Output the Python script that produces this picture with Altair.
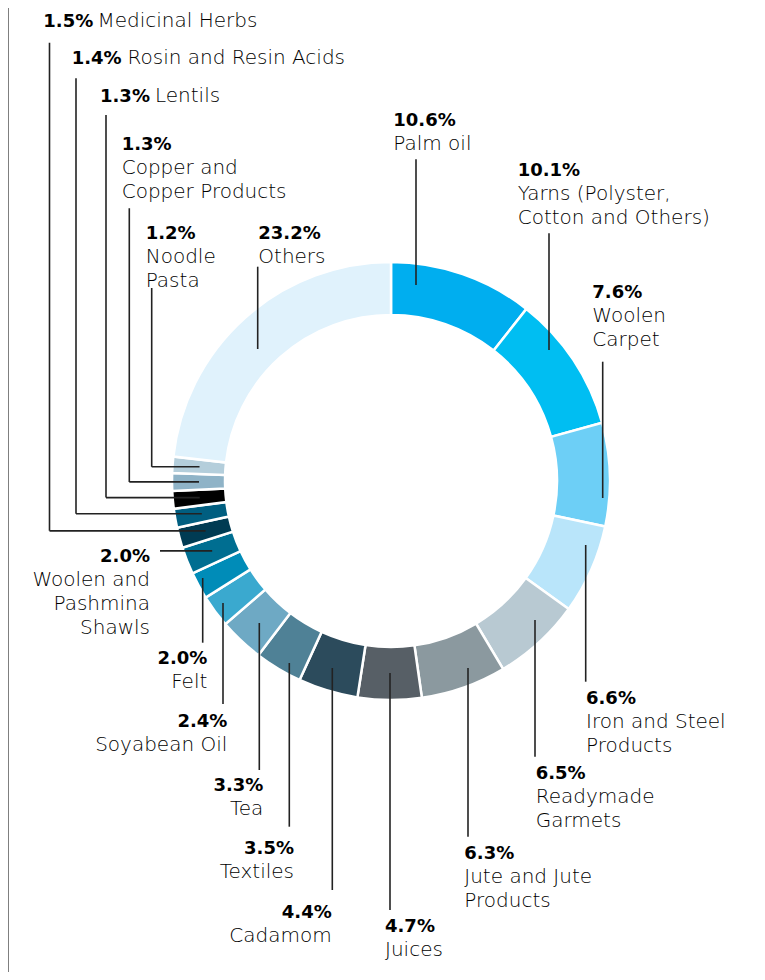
import math
import altair as alt
import pandas as pd

# ---------------- data ----------------
names = [
    "Palm oil", "Yarns (Polyster, Cotton and Others)", "Woolen Carpet",
    "Iron and Steel Products", "Readymade Garmets", "Jute and Jute Products",
    "Juices", "Cadamom", "Textiles", "Tea", "Soyabean Oil", "Felt",
    "Woolen and Pashmina Shawls", "Medicinal Herbs", "Rosin and Resin Acids",
    "Lentils", "Copper and Copper Products", "Noodle Pasta", "Others",
]
shares = [10.6, 10.1, 7.6, 6.6, 6.5, 6.3, 4.7, 4.4, 3.5, 3.3, 2.4, 2.0,
          2.0, 1.5, 1.4, 1.3, 1.3, 1.2, 23.2]
colors = [
    "#00AEEF", "#00BEF2", "#6DCFF6", "#B9E5FA", "#B8C9D2", "#8B999F",
    "#575F66", "#2C4B5C", "#4F8196", "#6EA9C4", "#3AA9CF", "#008CB8",
    "#006E91", "#003B53", "#005E80", "#000000", "#8FB3C7", "#B4CEDB",
    "#E0F2FC",
]
label_lines = [
    ["Palm oil"], ["Yarns (Polyster,", "Cotton and Others)"], ["Woolen", "Carpet"],
    ["Iron and Steel", "Products"], ["Readymade", "Garmets"], ["Jute and Jute", "Products"],
    ["Juices"], ["Cadamom"], ["Textiles"], ["Tea"], ["Soyabean Oil"], ["Felt"],
    ["Woolen and", "Pashmina", "Shawls"], ["Medicinal Herbs"], ["Rosin and Resin Acids"],
    ["Lentils"], ["Copper and", "Copper Products"], ["Noodle", "Pasta"], ["Others"],
]

# ---------------- layout (page pixel coordinates) ----------------
MARGIN = 8
W, H = 749, 964
CX, CY = 391, 481
R_OUT, R_IN = 219, 166
R_LEAD = 192
LINE_H = 24

# label: (x, first baseline, align, mode) ; mode "block" or inline name x
label_pos = [
    (393.3, 126, "left", "block"), (517.7, 176, "left", "block"), (592.3, 297.7, "left", "block"),
    (586, 704.3, "left", "block"), (535.7, 779.3, "left", "block"), (464.3, 859.3, "left", "block"),
    (385, 932.3, "left", "block"), (331.7, 917.7, "right", "block"), (294, 854.3, "right", "block"),
    (263.3, 790.7, "right", "block"), (227.3, 727.3, "right", "block"), (207.3, 664.3, "right", "block"),
    (150, 561.7, "right", "block"), (43.3, 27, "left", 97.5), (71.7, 64.3, "left", 127.5),
    (100, 101.7, "left", 155), (121.7, 150, "left", "block"), (145.7, 239, "left", "block"),
    (258.3, 239, "left", "block"),
]
# leader: ("v", x, y_top, y_bottom) | ("elbow", x, y_top) | ("h", x)
leaders = [
    ("v", 416, 159.3, 285), ("v", 549, 233.3, 350), ("v", 602.7, 361.7, 498),
    ("v", 585.7, 545, 681.7), ("v", 535, 620, 756.7), ("v", 468, 668, 836.7),
    ("v", 390, 673, 910), ("v", 332.3, 668, 890), ("v", 289.3, 663, 826.7),
    ("v", 259.3, 623, 770), ("v", 223, 603, 704), ("v", 202.7, 578, 642.7),
    ("h", 160), ("elbow", 49.5, 42.7), ("elbow", 76, 78.3),
    ("elbow", 106, 115), ("elbow", 129.3, 208.3), ("elbow", 151.7, 288),
    ("v", 257.7, 266.7, 349),
]

FONT = "DejaVu Sans"

# ---------------- tables ----------------
slices = pd.DataFrame({"name": names, "share": shares, "idx": list(range(len(names)))})

total = sum(shares)
cum = 0.0
segs = []
for i, (s, ld) in enumerate(zip(shares, leaders)):
    mid = (cum + s / 2) / total * 2 * math.pi
    cum += s
    px = CX + R_LEAD * math.sin(mid)
    py = CY - R_LEAD * math.cos(mid)
    if ld[0] == "v":
        segs.append((ld[1], ld[2], ld[1], ld[3]))
    elif ld[0] == "h":
        segs.append((ld[1], py, px, py))
    else:
        segs.append((ld[1], ld[2], ld[1], py))
        segs.append((ld[1], py, px, py))
seg_df = pd.DataFrame(segs, columns=["x", "y", "x2", "y2"])

rows = []
for s, lines, (lx, ly, al, mode) in zip(shares, label_lines, label_pos):
    pct = f"{s:.1f}%"
    rows.append({"x": lx, "y": ly, "label": pct, "kind": "pct", "anchor": al})
    if mode == "block":
        for k, ln in enumerate(lines):
            rows.append({"x": lx, "y": ly + LINE_H * (k + 1), "label": ln, "kind": "name", "anchor": al})
    else:
        rows.append({"x": mode, "y": ly, "label": lines[0], "kind": "name", "anchor": al})
txt = pd.DataFrame(rows)

xs = alt.Scale(domain=[MARGIN, MARGIN + W], range=[0, W])
ys = alt.Scale(domain=[MARGIN, MARGIN + H], range=[0, H])

donut = alt.Chart(slices).mark_arc(
    outerRadius=R_OUT, innerRadius=R_IN, stroke="white", strokeWidth=2.5
).encode(
    theta=alt.Theta("share:Q", stack=True),
    order=alt.Order("idx:Q"),
    color=alt.Color("name:N", scale=alt.Scale(domain=names, range=colors), legend=None),
    x=alt.value(CX - MARGIN),
    y=alt.value(CY - MARGIN),
)

lines_layer = alt.Chart(seg_df).mark_rule(color="#222222", strokeWidth=1.6).encode(
    x=alt.X("x:Q", scale=xs, axis=None),
    y=alt.Y("y:Q", scale=ys, axis=None),
    x2="x2:Q",
    y2="y2:Q",
)

border = alt.Chart(pd.DataFrame({"x": [MARGIN], "y": [0], "y2": [980]})).mark_rule(
    color="#7f7f7f", strokeWidth=2
).encode(
    x=alt.X("x:Q", scale=xs, axis=None),
    y=alt.Y("y:Q", scale=ys, axis=None),
    y2="y2:Q",
)


def text_layer(kind, align):
    d = txt[(txt["kind"] == kind) & (txt["anchor"] == align)].reset_index(drop=True)
    if kind == "pct":
        mk = alt.Chart(d).mark_text(align=align, baseline="alphabetic", font=FONT,
                                    fontSize=18, fontWeight="bold", color="#000000")
    else:
        mk = alt.Chart(d).mark_text(align=align, baseline="alphabetic", font=FONT,
                                    fontSize=20, fontWeight=300, color="#000000")
    return mk.encode(
        x=alt.X("x:Q", scale=xs, axis=None),
        y=alt.Y("y:Q", scale=ys, axis=None),
        text="label:N",
    )


chart = alt.layer(
    border, donut, lines_layer,
    text_layer("pct", "left"), text_layer("pct", "right"),
    text_layer("name", "left"), text_layer("name", "right"),
).properties(
    width=W, height=H, padding=0,
    autosize=alt.AutoSizeParams(type="none"),
).configure_view(stroke=None)

chart.save("out.html", embed_options={"renderer": "svg", "actions": False})
